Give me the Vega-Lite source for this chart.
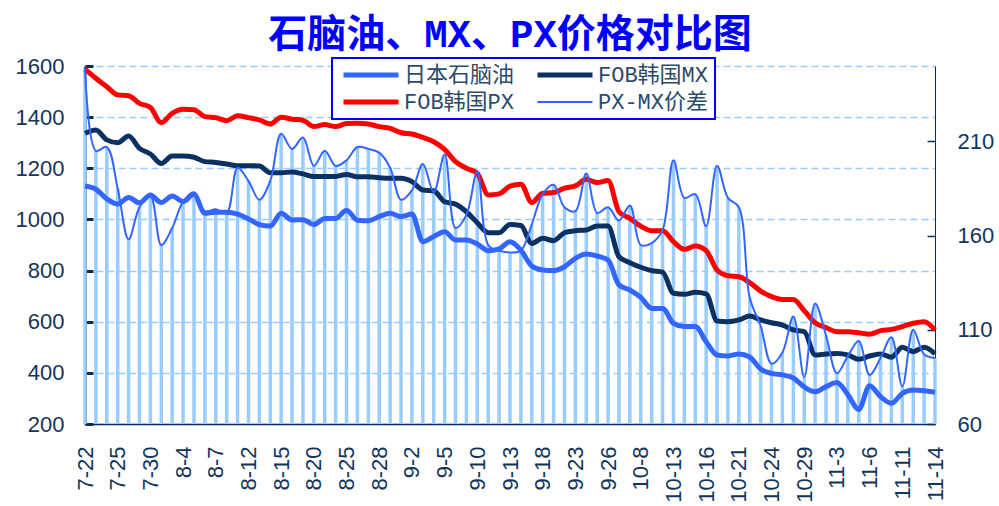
{
  "$schema": "https://vega.github.io/schema/vega-lite/v6.json",
  "width": 850,
  "height": 358,
  "autosize": "none",
  "padding": {"left": 85, "top": 66, "right": 64, "bottom": 82},
  "background": "white",
  "title": {
    "text": "石脑油、MX、PX价格对比图",
    "font": "Liberation Mono, Noto Sans CJK SC",
    "fontSize": 39,
    "fontWeight": "bold",
    "color": "#0000ff",
    "anchor": "middle",
    "offset": 0
  },
  "config": {
    "view": {"stroke": null},
    "axis": {
      "labelFont": "Liberation Sans",
      "labelFontSize": 22,
      "labelColor": "#12355b",
      "domainColor": "#0b2e57",
      "tickColor": "#0b2e57",
      "title": null
    }
  },
  "data": {
    "values": [
      {"d": "7-22", "日本石脑油": 1131, "FOB韩国MX": 1337, "FOB韩国PX": 1588, "PX-MX价差": 249},
      {"d": "7-23", "日本石脑油": 1118, "FOB韩国MX": 1350, "FOB韩国PX": 1552, "PX-MX价差": 205},
      {"d": "7-24", "日本石脑油": 1080, "FOB韩国MX": 1311, "FOB韩国PX": 1519, "PX-MX价差": 207},
      {"d": "7-25", "日本石脑油": 1060, "FOB韩国MX": 1300, "FOB韩国PX": 1487, "PX-MX价差": 185},
      {"d": "7-28", "日本石脑油": 1086, "FOB韩国MX": 1326, "FOB韩国PX": 1484, "PX-MX价差": 158},
      {"d": "7-29", "日本石脑油": 1065, "FOB韩国MX": 1278, "FOB韩国PX": 1454, "PX-MX价差": 175},
      {"d": "7-30", "日本石脑油": 1096, "FOB韩国MX": 1256, "FOB韩国PX": 1438, "PX-MX价差": 181},
      {"d": "7-31", "日本石脑油": 1066, "FOB韩国MX": 1219, "FOB韩国PX": 1378, "PX-MX价差": 155},
      {"d": "8-1", "日本石脑油": 1092, "FOB韩国MX": 1248, "FOB韩国PX": 1415, "PX-MX价差": 164},
      {"d": "8-4", "日本石脑油": 1070, "FOB韩国MX": 1248, "FOB韩国PX": 1431, "PX-MX价差": 178},
      {"d": "8-5", "日本石脑油": 1098, "FOB韩国MX": 1243, "FOB韩国PX": 1429, "PX-MX价差": 183},
      {"d": "8-6", "日本石脑油": 1024, "FOB韩国MX": 1226, "FOB韩国PX": 1402, "PX-MX价差": 173},
      {"d": "8-7", "日本石脑油": 1028, "FOB韩国MX": 1223, "FOB韩国PX": 1398, "PX-MX价差": 174},
      {"d": "8-8", "日本石脑油": 1028, "FOB韩国MX": 1217, "FOB韩国PX": 1386, "PX-MX价差": 172},
      {"d": "8-11", "日本石脑油": 1021, "FOB韩国MX": 1210, "FOB韩国PX": 1405, "PX-MX价差": 196},
      {"d": "8-12", "日本石脑油": 1002, "FOB韩国MX": 1210, "FOB韩国PX": 1398, "PX-MX价差": 189},
      {"d": "8-13", "日本石脑油": 980, "FOB韩国MX": 1209, "FOB韩国PX": 1389, "PX-MX价差": 179},
      {"d": "8-14", "日本石脑油": 974, "FOB韩国MX": 1183, "FOB韩国PX": 1373, "PX-MX价差": 189},
      {"d": "8-15", "日本石脑油": 1024, "FOB韩国MX": 1183, "FOB韩国PX": 1400, "PX-MX价差": 214},
      {"d": "8-18", "日本石脑油": 998, "FOB韩国MX": 1185, "FOB韩国PX": 1392, "PX-MX价差": 206},
      {"d": "8-19", "日本石脑油": 999, "FOB韩国MX": 1178, "FOB韩国PX": 1388, "PX-MX价差": 212},
      {"d": "8-20", "日本石脑油": 980, "FOB韩国MX": 1168, "FOB韩国PX": 1363, "PX-MX价差": 197},
      {"d": "8-21", "日本石脑油": 1004, "FOB韩国MX": 1168, "FOB韩国PX": 1371, "PX-MX价差": 205},
      {"d": "8-22", "日本石脑油": 1004, "FOB韩国MX": 1168, "FOB韩国PX": 1363, "PX-MX价差": 197},
      {"d": "8-25", "日本石脑油": 1036, "FOB韩国MX": 1176, "FOB韩国PX": 1375, "PX-MX价差": 200},
      {"d": "8-26", "日本石脑油": 997, "FOB韩国MX": 1167, "FOB韩国PX": 1376, "PX-MX价差": 207},
      {"d": "8-27", "日本石脑油": 995, "FOB韩国MX": 1167, "FOB韩国PX": 1373, "PX-MX价差": 206},
      {"d": "8-28", "日本石脑油": 1011, "FOB韩国MX": 1163, "FOB韩国PX": 1363, "PX-MX价差": 204},
      {"d": "8-29", "日本石脑油": 1024, "FOB韩国MX": 1161, "FOB韩国PX": 1356, "PX-MX价差": 196},
      {"d": "9-1", "日本石脑油": 1011, "FOB韩国MX": 1161, "FOB韩国PX": 1339, "PX-MX价差": 179},
      {"d": "9-2", "日本石脑油": 1021, "FOB韩国MX": 1148, "FOB韩国PX": 1334, "PX-MX价差": 184},
      {"d": "9-3", "日本石脑油": 913, "FOB韩国MX": 1115, "FOB韩国PX": 1321, "PX-MX价差": 198},
      {"d": "9-4", "日本石脑油": 933, "FOB韩国MX": 1112, "FOB韩国PX": 1304, "PX-MX价差": 183},
      {"d": "9-5", "日本石脑油": 952, "FOB韩国MX": 1069, "FOB韩国PX": 1274, "PX-MX价差": 203},
      {"d": "9-8", "日本石脑油": 920, "FOB韩国MX": 1060, "FOB韩国PX": 1226, "PX-MX价差": 164},
      {"d": "9-9", "日本石脑油": 920, "FOB韩国MX": 1030, "FOB韩国PX": 1200, "PX-MX价差": 171},
      {"d": "9-10", "日本石脑油": 904, "FOB韩国MX": 987, "FOB韩国PX": 1180, "PX-MX价差": 194},
      {"d": "9-11", "日本石脑油": 878, "FOB韩国MX": 948, "FOB韩国PX": 1096, "PX-MX价差": 155},
      {"d": "9-12", "日本石脑油": 885, "FOB韩国MX": 948, "FOB韩国PX": 1100, "PX-MX价差": 152},
      {"d": "9-13", "日本石脑油": 913, "FOB韩国MX": 980, "FOB韩国PX": 1130, "PX-MX价差": 151},
      {"d": "9-16", "日本石脑油": 880, "FOB韩国MX": 976, "FOB韩国PX": 1138, "PX-MX价差": 152},
      {"d": "9-17", "日本石脑油": 818, "FOB韩国MX": 906, "FOB韩国PX": 1066, "PX-MX价差": 166},
      {"d": "9-18", "日本石脑油": 802, "FOB韩国MX": 926, "FOB韩国PX": 1102, "PX-MX价差": 182},
      {"d": "9-19", "日本石脑油": 800, "FOB韩国MX": 917, "FOB韩国PX": 1105, "PX-MX价差": 187},
      {"d": "9-22", "日本石脑油": 815, "FOB韩国MX": 948, "FOB韩国PX": 1122, "PX-MX价差": 175},
      {"d": "9-23", "日本石脑油": 848, "FOB韩国MX": 956, "FOB韩国PX": 1131, "PX-MX价差": 173},
      {"d": "9-24", "日本石脑油": 865, "FOB韩国MX": 959, "FOB韩国PX": 1157, "PX-MX价差": 193},
      {"d": "9-25", "日本石脑油": 857, "FOB韩国MX": 974, "FOB韩国PX": 1144, "PX-MX价差": 172},
      {"d": "9-26", "日本石脑油": 841, "FOB韩国MX": 974, "FOB韩国PX": 1152, "PX-MX价差": 175},
      {"d": "9-29", "日本石脑油": 744, "FOB韩国MX": 854, "FOB韩国PX": 1030, "PX-MX价差": 168},
      {"d": "9-30", "日本石脑油": 724, "FOB韩国MX": 831, "FOB韩国PX": 1004, "PX-MX价差": 176},
      {"d": "10-8", "日本石脑油": 695, "FOB韩国MX": 813, "FOB韩国PX": 974, "PX-MX价差": 155},
      {"d": "10-9", "日本石脑油": 652, "FOB韩国MX": 800, "FOB韩国PX": 956, "PX-MX价差": 156},
      {"d": "10-10", "日本石脑油": 652, "FOB韩国MX": 794, "FOB韩国PX": 956, "PX-MX价差": 163},
      {"d": "10-13", "日本石脑油": 594, "FOB韩国MX": 711, "FOB韩国PX": 913, "PX-MX价差": 200},
      {"d": "10-14", "日本石脑油": 581, "FOB韩国MX": 707, "FOB韩国PX": 883, "PX-MX价差": 180},
      {"d": "10-15", "日本石脑油": 581, "FOB韩国MX": 715, "FOB韩国PX": 896, "PX-MX价差": 182},
      {"d": "10-16", "日本石脑油": 522, "FOB韩国MX": 709, "FOB韩国PX": 878, "PX-MX价差": 165},
      {"d": "10-17", "日本石脑油": 470, "FOB韩国MX": 603, "FOB韩国PX": 802, "PX-MX价差": 197},
      {"d": "10-20", "日本石脑油": 466, "FOB韩国MX": 600, "FOB韩国PX": 780, "PX-MX价差": 180},
      {"d": "10-21", "日本石脑油": 474, "FOB韩国MX": 607, "FOB韩国PX": 776, "PX-MX价差": 175},
      {"d": "10-22", "日本石脑油": 462, "FOB韩国MX": 622, "FOB韩国PX": 753, "PX-MX价差": 127},
      {"d": "10-23", "日本石脑油": 415, "FOB韩国MX": 607, "FOB韩国PX": 720, "PX-MX价差": 112},
      {"d": "10-24", "日本石脑油": 398, "FOB韩国MX": 596, "FOB韩国PX": 698, "PX-MX价差": 92},
      {"d": "10-27", "日本石脑油": 392, "FOB韩国MX": 587, "FOB韩国PX": 687, "PX-MX价差": 98},
      {"d": "10-28", "日本石脑油": 380, "FOB韩国MX": 568, "FOB韩国PX": 687, "PX-MX价差": 117},
      {"d": "10-29", "日本石脑油": 345, "FOB韩国MX": 561, "FOB韩国PX": 643, "PX-MX价差": 85},
      {"d": "10-30", "日本石脑油": 326, "FOB韩国MX": 470, "FOB韩国PX": 596, "PX-MX价差": 124},
      {"d": "10-31", "日本石脑油": 346, "FOB韩国MX": 474, "FOB韩国PX": 577, "PX-MX价差": 107},
      {"d": "11-3", "日本石脑油": 362, "FOB韩国MX": 476, "FOB韩国PX": 561, "PX-MX价差": 87},
      {"d": "11-4", "日本石脑油": 315, "FOB韩国MX": 470, "FOB韩国PX": 561, "PX-MX价差": 96},
      {"d": "11-5", "日本石脑油": 257, "FOB韩国MX": 453, "FOB韩国PX": 557, "PX-MX价差": 104},
      {"d": "11-6", "日本石脑油": 350, "FOB韩国MX": 466, "FOB韩国PX": 551, "PX-MX价差": 86},
      {"d": "11-7", "日本石脑油": 307, "FOB韩国MX": 474, "FOB韩国PX": 565, "PX-MX价差": 95},
      {"d": "11-10", "日本石脑油": 281, "FOB韩国MX": 461, "FOB韩国PX": 570, "PX-MX价差": 106},
      {"d": "11-11", "日本石脑油": 320, "FOB韩国MX": 500, "FOB韩国PX": 581, "PX-MX价差": 80},
      {"d": "11-12", "日本石脑油": 333, "FOB韩国MX": 483, "FOB韩国PX": 594, "PX-MX价差": 110},
      {"d": "11-13", "日本石脑油": 330, "FOB韩国MX": 500, "FOB韩国PX": 600, "PX-MX价差": 97},
      {"d": "11-14", "日本石脑油": 324, "FOB韩国MX": 474, "FOB韩国PX": 568, "PX-MX价差": 95}
    ]
  },
  "encoding": {
    "x": {
      "field": "d",
      "type": "ordinal",
      "sort": null,
      "scale": {"type": "point", "padding": 0},
      "axis": {
        "values": ["7-22","7-25","7-30","8-4","8-7","8-12","8-15","8-20","8-25","8-28","9-2","9-5","9-10","9-13","9-18","9-23","9-26","10-8","10-13","10-16","10-21","10-24","10-29","11-3","11-6","11-11","11-14"],
        "labelAngle": 270,
        "labelPadding": 22,
        "ticks": false,
        "domainWidth": 1.5,
        "labelOverlap": false,
        "labelBound": false
      }
    }
  },
  "layer": [
    {
      "mark": {"type": "rule", "strokeWidth": 3.5, "color": "#99ccff"},
      "encoding": {
        "y": {
          "field": "PX-MX价差",
          "type": "quantitative",
          "scale": {"domain": [60, 250], "nice": false, "zero": false},
          "axis": {
            "orient": "right",
            "values": [60, 110, 160, 210],
            "grid": false,
            "tickSize": -8,
            "tickWidth": 1.5,
            "domainWidth": 1,
            "labelPadding": 30
          }
        },
        "y2": {"datum": 60}
      }
    },
    {
      "transform": [{"fold": ["日本石脑油", "FOB韩国MX", "FOB韩国PX"], "as": ["series", "value"]}],
      "mark": {"type": "line", "strokeWidth": 5, "interpolate": "monotone"},
      "encoding": {
        "y": {
          "field": "value",
          "type": "quantitative",
          "scale": {"domain": [200, 1600], "nice": false, "zero": false},
          "axis": {
            "orient": "left",
            "values": [200, 400, 600, 800, 1000, 1200, 1400, 1600],
            "format": "d",
            "grid": true,
            "gridColor": "#99ccff",
            "gridDash": [7, 4],
            "gridWidth": 1.5,
            "tickSize": -8,
            "tickWidth": 3,
            "domainWidth": 2.5,
            "labelPadding": 29
          }
        },
        "color": {
          "field": "series",
          "type": "nominal",
          "scale": {
            "domain": ["日本石脑油", "FOB韩国PX", "FOB韩国MX", "PX-MX价差"],
            "range": ["#3366ff", "#ff0000", "#0a3161", "#3366ff"]
          },
          "legend": {
            "title": null,
            "orient": "none",
            "legendX": 247,
            "legendY": -8,
            "columns": 2,
            "symbolType": "M-1,0H9",
            "symbolSize": 121,
            "labelOffset": 44,
            "labelFont": "Liberation Mono, Noto Sans CJK SC",
            "labelFontSize": 22,
            "labelColor": "#2c4a6b",
            "labelLimit": 300,
            "columnPadding": 12,
            "rowPadding": 5,
            "padding": 6,
            "strokeColor": "#0000ff",
            "fillColor": "white",
            "encode": {
              "legend": {"update": {"strokeWidth": {"value": 2}}},
              "symbols": {"update": {"strokeWidth": {"signal": "datum.value === 'PX-MX价差' ? 2 : 5"}, "fill": {"value": "transparent"}}}
            }
          }
        }
      }
    },
    {
      "mark": {"type": "line", "strokeWidth": 2, "interpolate": "catmull-rom"},
      "encoding": {
        "y": {
          "field": "PX-MX价差",
          "type": "quantitative",
          "scale": {"domain": [60, 250], "nice": false, "zero": false},
          "axis": null
        },
        "color": {"datum": "PX-MX价差"}
      }
    }
  ],
  "resolve": {"scale": {"y": "independent"}}
}
